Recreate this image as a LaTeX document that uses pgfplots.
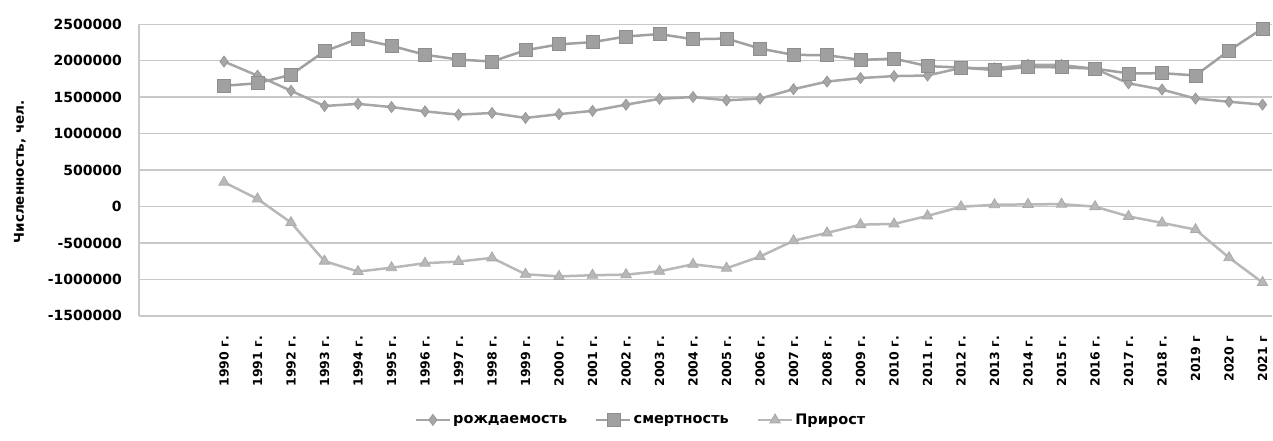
\documentclass[border=0pt]{standalone}
\usepackage{fontspec}
\setmainfont{DejaVu Sans}
\usepackage{pgfplots}
\pgfplotsset{compat=1.18}
\definecolor{gridc}{HTML}{C8C8C8}
\definecolor{c1}{HTML}{A6A6A6}
\definecolor{c1d}{HTML}{989898}
\definecolor{c2}{HTML}{A0A0A0}
\definecolor{c2d}{HTML}{8E8E8E}
\definecolor{c3}{HTML}{B8B8B8}
\definecolor{c3d}{HTML}{AAAAAA}
\begin{document}
\begin{tikzpicture}
\path (0pt,0pt) rectangle (1273pt,441pt);
\begin{axis}[
  at={(139pt,125pt)}, anchor=south west,
  scale only axis, width=1134pt, height=291.7pt,
  xmin=-2.54, xmax=31.29, ymin=-1500000, ymax=2500000,
  clip=false,
  axis x line*=bottom, axis y line*=left,
  axis line style={gridc, line width=1.5pt},
  major tick length=0pt,
  ymajorgrids, grid style={gridc, line width=1.5pt},
  ytick={-1500000,-1000000,-500000,0,500000,1000000,1500000,2000000,2500000},
  scaled y ticks=false,
  /pgf/number format/fixed,
  /pgf/number format/1000 sep={},
  /pgf/number format/assume math mode=true,
  yticklabel style={anchor=east, inner sep=0pt, font=\bfseries\fontsize{14}{14}\selectfont},
  yticklabel shift=17pt,
  xtick={0,1,2,3,4,5,6,7,8,9,10,11,12,13,14,15,16,17,18,19,20,21,22,23,24,25,26,27,28,29,30,31},
  xticklabels={1990 г.,1991 г.,1992 г.,1993 г.,1994 г.,1995 г.,1996 г.,1997 г.,1998 г.,1999 г.,2000 г.,2001 г.,2002 г.,2003 г.,2004 г.,2005 г.,2006 г.,2007 г.,2008 г.,2009 г.,2010 г.,2011 г.,2012 г.,2013 г.,2014 г.,2015 г.,2016 г.,2017 г.,2018 г.,2019 г,2020 г,2021 г},
  xticklabel style={rotate=90, anchor=east, inner sep=0pt, font=\bfseries\fontsize{12.5}{12.5}\selectfont},
  xticklabel shift=20pt,
  ylabel={Численность, чел.},
  ylabel style={at={(axis description cs:-0.105,0.494)}, anchor=center, font=\bfseries\fontsize{13.5}{13.5}\selectfont},
  legend columns=3,
  legend style={at={(axis description cs:0.443,-0.357)}, anchor=center, draw=none, fill=none,
    font=\bfseries\fontsize{14.5}{14.5}\selectfont,
    /tikz/every even column/.append style={column sep=26pt}},
  legend image code/.code={\draw[mark repeat=2,mark phase=2] plot coordinates {(0pt,0pt) (17pt,0pt) (34pt,0pt)};},
]
\addplot[color=c1, line width=2.5pt, mark=diamond*, mark size=5.5pt, mark options={fill=c1, draw=c1d, line width=0.8pt}]
coordinates {
(0,1989000)(1,1795000)(2,1588000)(3,1379000)(4,1408000)(5,1364000)(6,1305000)(7,1260000)
(8,1283000)(9,1215000)(10,1267000)(11,1312000)(12,1397000)(13,1477000)(14,1502000)(15,1457000)
(16,1480000)(17,1610000)(18,1714000)(19,1762000)(20,1789000)(21,1797000)(22,1902000)(23,1896000)
(24,1943000)(25,1941000)(26,1889000)(27,1690000)(28,1604000)(29,1481000)(30,1437000)(31,1398000)};
\addlegendentry{рождаемость}
\addplot[color=c2, line width=2.5pt, mark=square*, mark size=6.5pt, mark options={fill=c2, draw=c2d, line width=0.8pt}]
coordinates {
(0,1656000)(1,1691000)(2,1807000)(3,2129000)(4,2301000)(5,2204000)(6,2082000)(7,2016000)
(8,1989000)(9,2144000)(10,2225000)(11,2255000)(12,2332000)(13,2366000)(14,2295000)(15,2304000)
(16,2167000)(17,2080000)(18,2076000)(19,2011000)(20,2029000)(21,1926000)(22,1906000)(23,1872000)
(24,1914000)(25,1909000)(26,1891000)(27,1826000)(28,1829000)(29,1798000)(30,2139000)(31,2442000)};
\addlegendentry{смертность}
\addplot[color=c3, line width=2.5pt, mark=triangle*, mark size=6pt, mark options={fill=c3, draw=c3d, line width=0.8pt}]
coordinates {
(0,333000)(1,104000)(2,-220000)(3,-750000)(4,-893000)(5,-840000)(6,-778000)(7,-756000)
(8,-705000)(9,-930000)(10,-959000)(11,-943000)(12,-935000)(13,-889000)(14,-793000)(15,-847000)
(16,-687000)(17,-470000)(18,-362000)(19,-249000)(20,-240000)(21,-129000)(22,-4000)(23,24000)
(24,29000)(25,32000)(26,-2000)(27,-136000)(28,-225000)(29,-317000)(30,-702000)(31,-1043000)};
\addlegendentry{Прирост}
\end{axis}
\end{tikzpicture}
\end{document}
